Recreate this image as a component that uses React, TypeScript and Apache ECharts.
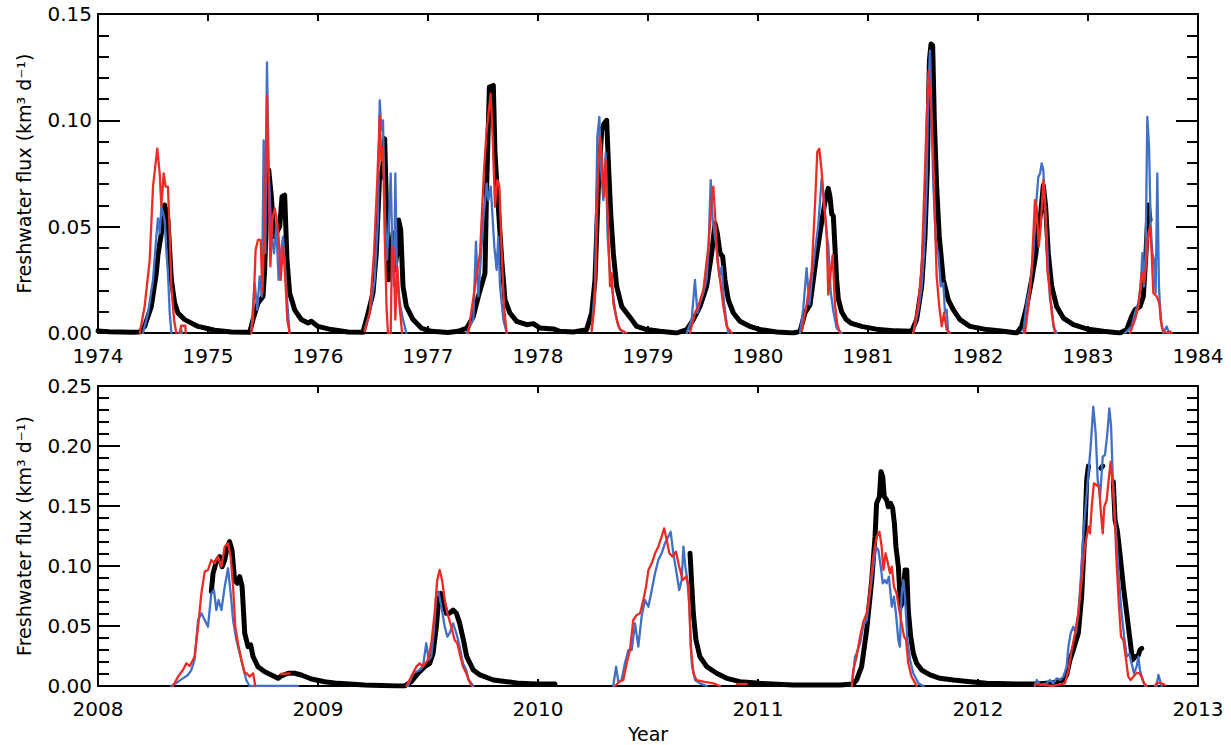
import React, { useEffect, useRef } from "react";
import * as echarts from "echarts";

type Pt = [number, number] | null;

// ---------- Top panel (1974-1984) ----------
const TOP_X_TICKS = [1974, 1975, 1976, 1977, 1978, 1979, 1980, 1981, 1982, 1983, 1984];
const TOP_Y_TICKS = [0, 0.05, 0.1, 0.15];

const TOP_BLACK: Pt[] = [
  [1974.0, 0.001], [1974.1, 0.0006], [1974.3, 0.0003], [1974.379, 0.0005], [1974.424, 0.0031], [1974.485, 0.0125],
  [1974.53, 0.0281], [1974.545, 0.0367], [1974.576, 0.0469], [1974.606, 0.0602], [1974.636, 0.0531], [1974.667, 0.025],
  [1974.697, 0.0141], [1974.727, 0.0094], [1974.788, 0.0063], [1974.909, 0.0031], [1975.061, 0.0013], [1975.212, 0.0005],
  [1975.379, 0.0003], [1975.409, 0.0063], [1975.455, 0.0141], [1975.5, 0.0172], [1975.515, 0.0297], [1975.53, 0.0531],
  [1975.552, 0.0766], [1975.576, 0.0641], [1975.6, 0.0453], [1975.621, 0.0469], [1975.652, 0.05], [1975.673, 0.0641],
  [1975.697, 0.0648], [1975.718, 0.0344], [1975.742, 0.0188], [1975.788, 0.0109], [1975.848, 0.0063], [1975.909, 0.0047],
  [1975.939, 0.0055], [1976.0, 0.0031], [1976.121, 0.0016], [1976.273, 0.0005], [1976.409, 0.0003], [1976.455, 0.0094],
  [1976.5, 0.0188], [1976.53, 0.0375], [1976.561, 0.075], [1976.582, 0.0734], [1976.606, 0.0914], [1976.621, 0.0625],
  [1976.642, 0.025], [1976.661, 0.0375], [1976.682, 0.0469], [1976.697, 0.0297], [1976.718, 0.0375], [1976.733, 0.0531],
  [1976.752, 0.0484], [1976.773, 0.0219], [1976.803, 0.0125], [1976.864, 0.0063], [1976.939, 0.0023], [1977.03, 0.0008],
  [1977.182, 0.0002], [1977.273, 0.0008], [1977.352, 0.0023], [1977.412, 0.0078], [1977.458, 0.0172], [1977.518, 0.0281],
  [1977.533, 0.0688], [1977.558, 0.1156], [1977.594, 0.1164], [1977.609, 0.0844], [1977.639, 0.0594], [1977.67, 0.0344],
  [1977.7, 0.0156], [1977.745, 0.0094], [1977.806, 0.0055], [1977.897, 0.0039], [1977.958, 0.0044], [1978.018, 0.0023],
  [1978.139, 0.0019], [1978.2, 0.0008], [1978.321, 0.0005], [1978.442, 0.0016], [1978.488, 0.0094], [1978.518, 0.025],
  [1978.549, 0.0688], [1978.579, 0.0953], [1978.6, 0.0984], [1978.624, 0.1], [1978.639, 0.0813], [1978.661, 0.0563],
  [1978.685, 0.0375], [1978.715, 0.0219], [1978.761, 0.0125], [1978.806, 0.0094], [1978.852, 0.0063], [1978.897, 0.0031],
  [1978.988, 0.0016], [1979.109, 0.0008], [1979.261, 0.0], [1979.352, 0.0016], [1979.412, 0.0063], [1979.473, 0.0125],
  [1979.533, 0.0219], [1979.579, 0.0375], [1979.609, 0.0516], [1979.63, 0.0469], [1979.655, 0.0375], [1979.679, 0.0359],
  [1979.7, 0.025], [1979.73, 0.0156], [1979.776, 0.0094], [1979.836, 0.0055], [1979.927, 0.0031], [1980.018, 0.0016],
  [1980.17, 0.0005], [1980.321, 0.0], [1980.382, 0.0008], [1980.427, 0.0094], [1980.473, 0.0133], [1980.533, 0.0367],
  [1980.579, 0.0523], [1980.609, 0.0617], [1980.639, 0.068], [1980.655, 0.064], [1980.67, 0.056], [1980.685, 0.055],
  [1980.7, 0.04], [1980.715, 0.025], [1980.73, 0.016], [1980.76, 0.01], [1980.8, 0.0065], [1980.85, 0.0045],
  [1980.95, 0.003], [1981.1, 0.0016], [1981.25, 0.001], [1981.397, 0.0008], [1981.442, 0.0063], [1981.488, 0.0219],
  [1981.518, 0.0453], [1981.539, 0.0766], [1981.558, 0.1281], [1981.573, 0.1359], [1981.588, 0.1352], [1981.603, 0.1],
  [1981.624, 0.0688], [1981.648, 0.0453], [1981.685, 0.025], [1981.73, 0.0156], [1981.776, 0.0109], [1981.836, 0.0063],
  [1981.927, 0.0031], [1982.079, 0.0016], [1982.23, 0.0008], [1982.352, 0.0], [1982.397, 0.0031], [1982.442, 0.0125],
  [1982.488, 0.025], [1982.527, 0.0375], [1982.548, 0.05], [1982.57, 0.0563], [1982.594, 0.0695], [1982.615, 0.0594],
  [1982.639, 0.0375], [1982.67, 0.0219], [1982.715, 0.0125], [1982.776, 0.007], [1982.867, 0.0039], [1982.988, 0.0019],
  [1983.139, 0.0008], [1983.291, 0.0], [1983.352, 0.0016], [1983.397, 0.0078], [1983.427, 0.0109], [1983.473, 0.0125],
  [1983.503, 0.0172], [1983.527, 0.0375], [1983.548, 0.0602], [1983.564, 0.0531],
];

const TOP_BLUE: Pt[] = [
  [1974.409, 0], [1974.455, 0.0094], [1974.5, 0.025], [1974.53, 0.0453], [1974.545, 0.0539], [1974.561, 0.0469],
  [1974.576, 0.0594], [1974.606, 0.0531], [1974.621, 0.0391], [1974.636, 0.0281], [1974.652, 0.0094], [1974.667, 0], null,
  [1974.739, 0], [1974.752, 0.0023], [1974.764, 0], null,
  [1975.394, 0.0016], [1975.424, 0.0234], [1975.448, 0.0109], [1975.47, 0.0266], [1975.491, 0.0172], [1975.506, 0.0906],
  [1975.521, 0.0375], [1975.536, 0.1273], [1975.552, 0.0766], [1975.576, 0.0469], [1975.6, 0.0375], [1975.621, 0.05],
  [1975.642, 0.025], [1975.661, 0.0375], [1975.682, 0.0453], [1975.703, 0.0297], [1975.721, 0.0141], [1975.742, 0], null,
  [1976.424, 0.0016], [1976.47, 0.0094], [1976.515, 0.025], [1976.545, 0.0531], [1976.561, 0.1094], [1976.576, 0.0953],
  [1976.591, 0.1], [1976.606, 0.0594], [1976.627, 0.0344], [1976.645, 0.0531], [1976.661, 0.075], [1976.676, 0.0375],
  [1976.691, 0.0219], [1976.703, 0.075], [1976.718, 0.0281], [1976.742, 0.0141], [1976.773, 0.0063], [1976.803, 0], null,
  [1977.352, 0], [1977.412, 0.0063], [1977.436, 0.043], [1977.458, 0.0172], [1977.479, 0.0344], [1977.503, 0.0531],
  [1977.533, 0.0703], [1977.549, 0.0625], [1977.57, 0.0688], [1977.585, 0.0563], [1977.603, 0.0406], [1977.624, 0.0297],
  [1977.639, 0.0453], [1977.655, 0.0219], [1977.685, 0.0063], [1977.715, 0], null,
  [1978.488, 0.0016], [1978.518, 0.0219], [1978.539, 0.0922], [1978.558, 0.1016], [1978.573, 0.0766], [1978.594, 0.0625],
  [1978.615, 0.0844], [1978.633, 0.0453], [1978.655, 0.0281], [1978.679, 0.0188], [1978.7, 0.0109], [1978.73, 0.0031],
  [1978.776, 0], null,
  [1979.352, 0], [1979.397, 0.0063], [1979.427, 0.025], [1979.449, 0.0094], [1979.473, 0.0141], [1979.503, 0.0188],
  [1979.533, 0.025], [1979.549, 0.0375], [1979.57, 0.0719], [1979.588, 0.0531], [1979.609, 0.0453], [1979.63, 0.0375],
  [1979.648, 0.0266], [1979.67, 0.0313], [1979.691, 0.0141], [1979.715, 0.0047], [1979.73, 0], null,
  [1980.382, 0], [1980.412, 0.0117], [1980.442, 0.0305], [1980.467, 0.0133], [1980.503, 0.032], [1980.548, 0.0508],
  [1980.579, 0.0727], [1980.6, 0.0633], [1980.624, 0.0461], [1980.639, 0.0414], [1980.661, 0.0195], [1980.685, 0.0102],
  [1980.715, 0.0023], [1980.761, 0], null,
  [1981.412, 0], [1981.458, 0.0109], [1981.488, 0.0219], [1981.509, 0.0375], [1981.533, 0.0688], [1981.548, 0.1156],
  [1981.564, 0.1328], [1981.579, 0.1], [1981.594, 0.0688], [1981.618, 0.0422], [1981.639, 0.0375], [1981.661, 0.0219],
  [1981.685, 0.0234], [1981.7, 0.0094], [1981.715, 0.0109], [1981.73, 0], null,
  [1982.412, 0], [1982.442, 0.0141], [1982.473, 0.0219], [1982.503, 0.0375], [1982.527, 0.0594], [1982.548, 0.0734],
  [1982.564, 0.075], [1982.579, 0.0797], [1982.594, 0.0766], [1982.609, 0.0594], [1982.624, 0.0469], [1982.639, 0.0297],
  [1982.655, 0.0156], [1982.67, 0.0125], [1982.685, 0.0031], [1982.715, 0], null,
  [1983.336, 0], [1983.397, 0.0031], [1983.427, 0.0094], [1983.458, 0.0141], [1983.479, 0.0219], [1983.494, 0.0375],
  [1983.509, 0.0219], [1983.524, 0.0375], [1983.539, 0.1016], [1983.555, 0.0875], [1983.57, 0.05], [1983.585, 0.0375],
  [1983.6, 0.0344], [1983.615, 0.0188], [1983.63, 0.075], [1983.645, 0.0219], [1983.661, 0.0063], [1983.685, 0],
  [1983.715, 0.0031], [1983.736, 0],
];

const TOP_RED: Pt[] = [
  [1974.379, 0], [1974.424, 0.0125], [1974.47, 0.0344], [1974.5, 0.0688], [1974.539, 0.0867], [1974.561, 0.075],
  [1974.576, 0.0594], [1974.597, 0.075], [1974.615, 0.0688], [1974.636, 0.0688], [1974.652, 0.0469], [1974.667, 0.0219],
  [1974.691, 0.0063], [1974.712, 0], null,
  [1974.752, 0], [1974.755, 0.0034], [1974.794, 0.0034], [1974.797, 0], null,
  [1975.394, 0], [1975.409, 0.0063], [1975.433, 0.0391], [1975.455, 0.0438], [1975.479, 0.0438], [1975.494, 0.0188],
  [1975.515, 0.0531], [1975.536, 0.1117], [1975.552, 0.0688], [1975.567, 0.0313], [1975.585, 0.0531], [1975.606, 0.0586],
  [1975.627, 0.0531], [1975.642, 0.0453], [1975.661, 0.025], [1975.682, 0.0406], [1975.697, 0.0313], [1975.721, 0.0063],
  [1975.742, 0], null,
  [1976.424, 0.0008], [1976.47, 0.0094], [1976.509, 0.0375], [1976.539, 0.0719], [1976.561, 0.1023], [1976.576, 0.0813],
  [1976.591, 0.0875], [1976.606, 0.0469], [1976.624, 0.0109], [1976.636, 0], [1976.661, 0], [1976.673, 0.0406],
  [1976.688, 0.0391], [1976.703, 0.0063], [1976.721, 0.0313], [1976.742, 0.0125], [1976.764, 0], null,
  [1977.367, 0], [1977.427, 0.0219], [1977.473, 0.0375], [1977.509, 0.0766], [1977.533, 0.0953], [1977.57, 0.1125],
  [1977.588, 0.0922], [1977.609, 0.0594], [1977.63, 0.0719], [1977.649, 0.0688], [1977.67, 0.0375], [1977.691, 0.0125],
  [1977.715, 0], null,
  [1978.488, 0.0008], [1978.518, 0.0156], [1978.543, 0.0688], [1978.564, 0.0922], [1978.579, 0.0844], [1978.6, 0.0641],
  [1978.615, 0.0813], [1978.633, 0.0563], [1978.655, 0.0219], [1978.67, 0.0281], [1978.685, 0.0141], [1978.715, 0.0063],
  [1978.745, 0.0016], [1978.806, 0], null,
  [1979.382, 0], [1979.427, 0.0094], [1979.458, 0.0125], [1979.503, 0.0203], [1979.549, 0.0406], [1979.579, 0.0625],
  [1979.594, 0.0688], [1979.609, 0.0563], [1979.63, 0.0344], [1979.655, 0.025], [1979.685, 0.0125], [1979.715, 0.0031],
  [1979.761, 0], null,
  [1980.397, 0.0008], [1980.442, 0.0133], [1980.488, 0.0289], [1980.518, 0.0602], [1980.539, 0.0852], [1980.557, 0.0867],
  [1980.579, 0.0758], [1980.6, 0.0602], [1980.624, 0.0477], [1980.639, 0.018], [1980.661, 0.0289], [1980.679, 0.0367],
  [1980.7, 0.0133], [1980.721, 0.0039], [1980.745, 0], null,
  [1981.412, 0], [1981.458, 0.0141], [1981.488, 0.0313], [1981.518, 0.0766], [1981.533, 0.1], [1981.551, 0.1234],
  [1981.564, 0.1125], [1981.579, 0.1], [1981.594, 0.0813], [1981.609, 0.0531], [1981.624, 0.0266], [1981.648, 0.0125],
  [1981.67, 0.0031], [1981.691, 0.0094], [1981.715, 0.0016], [1981.745, 0], null,
  [1982.427, 0], [1982.458, 0.0125], [1982.488, 0.0297], [1982.518, 0.0625], [1982.533, 0.0594], [1982.552, 0.0406],
  [1982.57, 0.05], [1982.594, 0.0719], [1982.612, 0.0594], [1982.63, 0.0297], [1982.648, 0.0219], [1982.67, 0.0094],
  [1982.7, 0], null,
  [1983.382, 0], [1983.427, 0.0063], [1983.458, 0.0125], [1983.488, 0.0281], [1983.509, 0.0234], [1983.527, 0.0313],
  [1983.548, 0.0469], [1983.564, 0.05], [1983.579, 0.0375], [1983.594, 0.0188], [1983.624, 0.0172], [1983.648, 0.0141],
  [1983.67, 0.0031], [1983.685, 0.0008], [1983.715, 0], [1983.745, 0.0008], [1983.761, 0],
];

// ---------- Bottom panel (2008-2013) ----------
const BOT_X_TICKS = [2008, 2009, 2010, 2011, 2012, 2013];
const BOT_Y_TICKS = [0, 0.05, 0.1, 0.15, 0.2, 0.25];

const BOT_BLACK: Pt[] = [
  [2008.515, 0.0786], [2008.523, 0.0939], [2008.538, 0.1036], [2008.553, 0.1078], [2008.564, 0.0994], [2008.576, 0.105],
  [2008.588, 0.1161], [2008.598, 0.1203], [2008.609, 0.1133], [2008.621, 0.0883], [2008.633, 0.0856], [2008.644, 0.0911],
  [2008.655, 0.0828], [2008.667, 0.0439], [2008.682, 0.0328], [2008.694, 0.0342], [2008.705, 0.0244], [2008.727, 0.0161],
  [2008.758, 0.0119], [2008.788, 0.0092], [2008.818, 0.0064], [2008.833, 0.0083], [2008.864, 0.0106], [2008.894, 0.0106],
  [2008.924, 0.0092], [2008.97, 0.0058], [2009.03, 0.0036], [2009.091, 0.0022], [2009.212, 0.0008], [2009.364, 0],
  [2009.394, 0], [2009.424, 0.0036], [2009.455, 0.0106], [2009.485, 0.0161], [2009.508, 0.0189], [2009.523, 0.0272],
  [2009.538, 0.0494], [2009.548, 0.0717], [2009.558, 0.0772], [2009.568, 0.0717], [2009.583, 0.0606], [2009.598, 0.0606],
  [2009.614, 0.0633], [2009.629, 0.0606], [2009.644, 0.0522], [2009.661, 0.0383], [2009.676, 0.0244], [2009.706, 0.0133],
  [2009.736, 0.0092], [2009.797, 0.005], [2009.858, 0.0036], [2009.918, 0.0022], [2009.994, 0.0017], [2010.077, 0.0017], null,
  [2010.691, 0.1106], [2010.706, 0.0606], [2010.718, 0.0383], [2010.736, 0.0244], [2010.767, 0.0161], [2010.812, 0.0106],
  [2010.858, 0.0064], [2010.918, 0.0036], [2011.009, 0.0022], [2011.161, 0.0008], [2011.282, 0.0008], [2011.373, 0.0008],
  [2011.433, 0.0017], [2011.448, 0.005], [2011.471, 0.0161], [2011.494, 0.0467], [2011.517, 0.0883], [2011.532, 0.1244],
  [2011.539, 0.1522], [2011.552, 0.1578], [2011.559, 0.1786], [2011.567, 0.1744], [2011.574, 0.1578], [2011.585, 0.155],
  [2011.592, 0.1494], [2011.603, 0.1522], [2011.612, 0.1481], [2011.62, 0.1356], [2011.627, 0.1161], [2011.638, 0.0994],
  [2011.648, 0.0661], [2011.661, 0.0717], [2011.668, 0.0967], [2011.676, 0.0967], [2011.683, 0.0633], [2011.694, 0.0411],
  [2011.706, 0.0272], [2011.721, 0.0189], [2011.744, 0.0133], [2011.782, 0.0092], [2011.827, 0.0064], [2011.888, 0.005],
  [2011.964, 0.0036], [2012.039, 0.0022], [2012.191, 0.0017], [2012.267, 0.0017], [2012.342, 0.0028], [2012.388, 0.005],
  [2012.403, 0.0092], [2012.418, 0.0217], [2012.433, 0.03], [2012.456, 0.0439], [2012.471, 0.0744], [2012.486, 0.13],
  [2012.494, 0.1717], [2012.502, 0.1833], null,
  [2012.559, 0.1814], [2012.567, 0.1833], null,
  [2012.615, 0.1703], [2012.623, 0.1383], [2012.633, 0.13], [2012.645, 0.1106], [2012.661, 0.0828], [2012.676, 0.0606],
  [2012.691, 0.0383], [2012.702, 0.0217], [2012.714, 0.0244], [2012.729, 0.0258], [2012.736, 0.03], [2012.744, 0.0314],
];

const BOT_BLUE: Pt[] = [
  [2008.333, 0], [2008.364, 0.0036], [2008.386, 0.0064], [2008.409, 0.0092], [2008.424, 0.0133], [2008.439, 0.0217],
  [2008.455, 0.055], [2008.47, 0.0606], [2008.485, 0.055], [2008.5, 0.0494], [2008.515, 0.0772], [2008.527, 0.08],
  [2008.538, 0.0633], [2008.548, 0.0717], [2008.561, 0.0633], [2008.576, 0.0828], [2008.591, 0.0981], [2008.603, 0.0772],
  [2008.614, 0.055], [2008.629, 0.0383], [2008.644, 0.0272], [2008.659, 0.0161], [2008.674, 0.005], [2008.689, 0],
  [2008.909, 0], null,
  [2009.409, 0], [2009.432, 0.0106], [2009.447, 0.0119], [2009.462, 0.0133], [2009.477, 0.0161], [2009.492, 0.0356],
  [2009.503, 0.0217], [2009.515, 0.0244], [2009.527, 0.0467], [2009.538, 0.0772], [2009.548, 0.0786], [2009.561, 0.0661],
  [2009.576, 0.0494], [2009.588, 0.0411], [2009.598, 0.0439], [2009.614, 0.0522], [2009.629, 0.0439], [2009.644, 0.0328],
  [2009.659, 0.0189], [2009.674, 0.0133], [2009.685, 0.005], [2009.706, 0], null,
  [2010.342, 0], [2010.355, 0.0161], [2010.365, 0.0036], [2010.38, 0.005], [2010.395, 0.0189], [2010.411, 0.03],
  [2010.426, 0.03], [2010.441, 0.0522], [2010.456, 0.0328], [2010.471, 0.0578], [2010.486, 0.0717], [2010.502, 0.0661],
  [2010.517, 0.08], [2010.532, 0.0939], [2010.547, 0.105], [2010.562, 0.1106], [2010.577, 0.1189], [2010.592, 0.1244],
  [2010.603, 0.1286], [2010.615, 0.1106], [2010.63, 0.0939], [2010.642, 0.08], [2010.653, 0.0883], [2010.661, 0.1161],
  [2010.67, 0.0994], [2010.679, 0.0883], [2010.688, 0.0661], [2010.699, 0.0189], [2010.714, 0.005], [2010.736, 0.0022],
  [2010.767, 0], null,
  [2011.426, 0], [2011.433, 0.0106], [2011.441, 0.0244], [2011.448, 0.0272], [2011.464, 0.0356], [2011.479, 0.0508],
  [2011.494, 0.055], [2011.509, 0.0772], [2011.524, 0.0994], [2011.536, 0.1161], [2011.547, 0.1133], [2011.558, 0.0994],
  [2011.567, 0.0856], [2011.577, 0.0883], [2011.585, 0.0856], [2011.595, 0.0911], [2011.608, 0.0661], [2011.618, 0.0744],
  [2011.627, 0.0606], [2011.638, 0.0383], [2011.645, 0.0328], [2011.653, 0.0772], [2011.661, 0.0883], [2011.668, 0.0744],
  [2011.679, 0.0383], [2011.691, 0.0217], [2011.706, 0.0106], [2011.729, 0.0022], [2011.752, 0], null,
  [2012.259, 0], [2012.267, 0.005], [2012.282, 0.0008], [2012.312, 0.0022], [2012.327, 0.005], [2012.342, 0.0022],
  [2012.358, 0.0064], [2012.373, 0.005], [2012.388, 0.0078], [2012.403, 0.0161], [2012.411, 0.0328], [2012.421, 0.0439],
  [2012.433, 0.0494], [2012.445, 0.0439], [2012.456, 0.0606], [2012.467, 0.0883], [2012.479, 0.1272], [2012.489, 0.1494],
  [2012.502, 0.1772], [2012.512, 0.1994], [2012.524, 0.2328], [2012.535, 0.2106], [2012.544, 0.1717], [2012.555, 0.1578],
  [2012.567, 0.1911], [2012.577, 0.1925], [2012.588, 0.2106], [2012.597, 0.2314], [2012.605, 0.2161], [2012.612, 0.1772],
  [2012.62, 0.1467], [2012.63, 0.1217], [2012.641, 0.0883], [2012.653, 0.0606], [2012.664, 0.0411], [2012.676, 0.0244],
  [2012.688, 0.0272], [2012.698, 0.0189], [2012.709, 0.0106], [2012.721, 0.0161], [2012.729, 0.0244], [2012.736, 0.0133],
  [2012.748, 0.005], [2012.759, 0], null,
  [2012.812, 0], [2012.82, 0.0092], [2012.827, 0.005], [2012.835, 0],
];

const BOT_RED: Pt[] = [
  [2008.341, 0], [2008.364, 0.0078], [2008.386, 0.0133], [2008.402, 0.0189], [2008.417, 0.0167], [2008.439, 0.0244],
  [2008.455, 0.0494], [2008.47, 0.0772], [2008.485, 0.0953], [2008.5, 0.0967], [2008.515, 0.105], [2008.53, 0.1022],
  [2008.545, 0.1078], [2008.561, 0.0994], [2008.576, 0.1161], [2008.591, 0.1189], [2008.603, 0.1078], [2008.614, 0.0828],
  [2008.624, 0.0494], [2008.636, 0.0356], [2008.652, 0.0217], [2008.667, 0.0106], [2008.677, 0.0106], [2008.689, 0.0078],
  [2008.705, 0.0106], [2008.715, 0], null,
  [2008.83, 0.01], [2008.871, 0.0106], null,
  [2009.402, 0], [2009.424, 0.0078], [2009.447, 0.0161], [2009.462, 0.0189], [2009.477, 0.0161], [2009.5, 0.0217],
  [2009.515, 0.0356], [2009.53, 0.0606], [2009.542, 0.0883], [2009.553, 0.0967], [2009.564, 0.0883], [2009.576, 0.0717],
  [2009.588, 0.0606], [2009.606, 0.0494], [2009.621, 0.0383], [2009.633, 0.0356], [2009.644, 0.0272], [2009.659, 0.0161],
  [2009.674, 0.0106], [2009.685, 0.005], [2009.699, 0], null,
  [2010.35, 0], [2010.37, 0.0036], [2010.388, 0.005], [2010.403, 0.0189], [2010.418, 0.03], [2010.433, 0.055],
  [2010.449, 0.0592], [2010.464, 0.0606], [2010.479, 0.0717], [2010.491, 0.0828], [2010.502, 0.0967], [2010.517, 0.1022],
  [2010.532, 0.1106], [2010.547, 0.1161], [2010.562, 0.1244], [2010.573, 0.1314], [2010.585, 0.1217], [2010.597, 0.1106],
  [2010.612, 0.1078], [2010.627, 0.1119], [2010.642, 0.0994], [2010.658, 0.0883], [2010.673, 0.0911], [2010.685, 0.0828],
  [2010.694, 0.0328], [2010.706, 0.0106], [2010.721, 0.005], [2010.752, 0.0036], [2010.797, 0.0022], [2010.827, 0], null,
  [2010.903, 0.0017], [2010.949, 0.0017], null,
  [2011.426, 0], [2011.433, 0.0133], [2011.448, 0.0244], [2011.464, 0.0411], [2011.479, 0.0536], [2011.494, 0.0606],
  [2011.509, 0.08], [2011.524, 0.1078], [2011.539, 0.1244], [2011.552, 0.1286], [2011.562, 0.1161], [2011.57, 0.0967],
  [2011.58, 0.1106], [2011.589, 0.1036], [2011.6, 0.0939], [2011.608, 0.0994], [2011.618, 0.0828], [2011.63, 0.0772],
  [2011.642, 0.0633], [2011.653, 0.0522], [2011.664, 0.0411], [2011.673, 0.0383], [2011.683, 0.0189], [2011.698, 0.0078],
  [2011.721, 0], null,
  [2012.259, 0.0017], [2012.342, 0], [2012.395, 0.0022], [2012.411, 0.0133], [2012.426, 0.03], [2012.441, 0.0439],
  [2012.456, 0.0606], [2012.471, 0.0883], [2012.486, 0.1161], [2012.502, 0.1328], [2012.509, 0.1272], [2012.517, 0.1494],
  [2012.527, 0.1689], [2012.539, 0.1675], [2012.55, 0.1661], [2012.559, 0.1439], [2012.567, 0.1272], [2012.574, 0.1494],
  [2012.585, 0.155], [2012.594, 0.1717], [2012.603, 0.1869], [2012.612, 0.1689], [2012.621, 0.1439], [2012.63, 0.1022],
  [2012.641, 0.0661], [2012.65, 0.0411], [2012.661, 0.0383], [2012.673, 0.0217], [2012.683, 0.0078], [2012.694, 0.005],
  [2012.706, 0.0078], [2012.721, 0.0111], [2012.733, 0.0106], [2012.744, 0.0078], [2012.755, 0.0022], [2012.767, 0], null,
  [2012.805, 0], [2012.812, 0.0028], [2012.835, 0.0022], [2012.85, 0.0008],
];

const Y_TITLE = "Freshwater flux (km\u00B3 d\u207B\u00B9)";
const X_TITLE = "Year";

const FONT = "DejaVu Sans";
const BLACK = "#000000";
const BLUE = "#4070c8";
const RED = "#ee2a24";

function toData(pts: Pt[]) {
  return pts.map((p) => (p === null ? ["-", "-"] : p));
}

export default function App() {
  const ref = useRef<HTMLDivElement>(null);
  useEffect(() => {
    if (!ref.current) return;
    const chart = echarts.init(ref.current, undefined, { renderer: "svg" });

    const grids = [
      { left: 98, top: 14, width: 1100, height: 319 },
      { left: 98, top: 386, width: 1100, height: 300 },
    ];
    const xTicks = [TOP_X_TICKS, BOT_X_TICKS];
    const yTicks = [TOP_Y_TICKS, BOT_Y_TICKS];

    const lineStyle = { color: BLACK, width: 2 };
    const xAxes: any[] = [];
    const yAxes: any[] = [];
    [0, 1].forEach((g) => {
      const xt = xTicks[g];
      const yt = yTicks[g];
      const xBase = {
        gridIndex: g,
        type: "value",
        min: xt[0],
        max: xt[xt.length - 1],
        interval: xt[1] - xt[0],
        axisLine: { show: true, onZero: false, lineStyle },
        axisTick: { show: true, inside: true, length: 7, lineStyle: { color: BLACK, width: 2 } },
        splitLine: { show: false },
      };
      xAxes.push({
        ...xBase,
        position: "bottom",
        axisLabel: {
          show: true,
          color: BLACK,
          fontFamily: FONT,
          fontSize: 20,
          margin: 13,
          formatter: (v: number) => String(Math.round(v)),
        },
        ...(g === 1
          ? {
              name: X_TITLE,
              nameLocation: "middle",
              nameGap: 38,
              nameTextStyle: { color: BLACK, fontFamily: FONT, fontSize: 19 },
            }
          : {}),
      });
      xAxes.push({ ...xBase, position: "top", axisLabel: { show: false } });
      const yBase = {
        gridIndex: g,
        type: "value",
        min: yt[0],
        max: yt[yt.length - 1],
        interval: yt[1] - yt[0],
        axisLine: { show: true, onZero: false, lineStyle },
        axisTick: { show: true, inside: true, length: 22, lineStyle: { color: BLACK, width: 2 } },
        minorTick: { show: true, splitNumber: 5, length: 11, lineStyle: { color: BLACK, width: 2 } },
        splitLine: { show: false },
        minorSplitLine: { show: false },
      };
      yAxes.push({
        ...yBase,
        position: "left",
        axisLabel: {
          show: true,
          color: BLACK,
          fontFamily: FONT,
          fontSize: 20,
          margin: 6,
          formatter: (v: number) => v.toFixed(2),
        },
        name: Y_TITLE,
        nameLocation: "middle",
        nameRotate: 90,
        nameGap: 65,
        nameTextStyle: { color: BLACK, fontFamily: FONT, fontSize: 19 },
      });
      yAxes.push({ ...yBase, position: "right", axisLabel: { show: false } });
    });

    const mk = (data: Pt[], g: number, color: string, width: number, z: number) => ({
      type: "line",
      xAxisIndex: g * 2,
      yAxisIndex: g * 2,
      data: toData(data),
      showSymbol: false,
      symbol: "none",
      connectNulls: false,
      lineStyle: { color, width, join: "round", cap: "round" },
      z,
      silent: true,
    });

    chart.setOption({
      animation: false,
      backgroundColor: "#ffffff",
      grid: grids,
      xAxis: xAxes,
      yAxis: yAxes,
      series: [
        mk(TOP_BLACK, 0, BLACK, 5, 2),
        mk(TOP_BLUE, 0, BLUE, 2.3, 3),
        mk(TOP_RED, 0, RED, 2.3, 4),
        mk(BOT_BLACK, 1, BLACK, 5, 2),
        mk(BOT_BLUE, 1, BLUE, 2.3, 3),
        mk(BOT_RED, 1, RED, 2.3, 4),
      ],
    });
    return () => chart.dispose();
  }, []);
  return (
    <div
      ref={ref}
      style={{ position: "absolute", left: 0, top: 0, width: 1231, height: 745, background: "#fff" }}
    />
  );
}
